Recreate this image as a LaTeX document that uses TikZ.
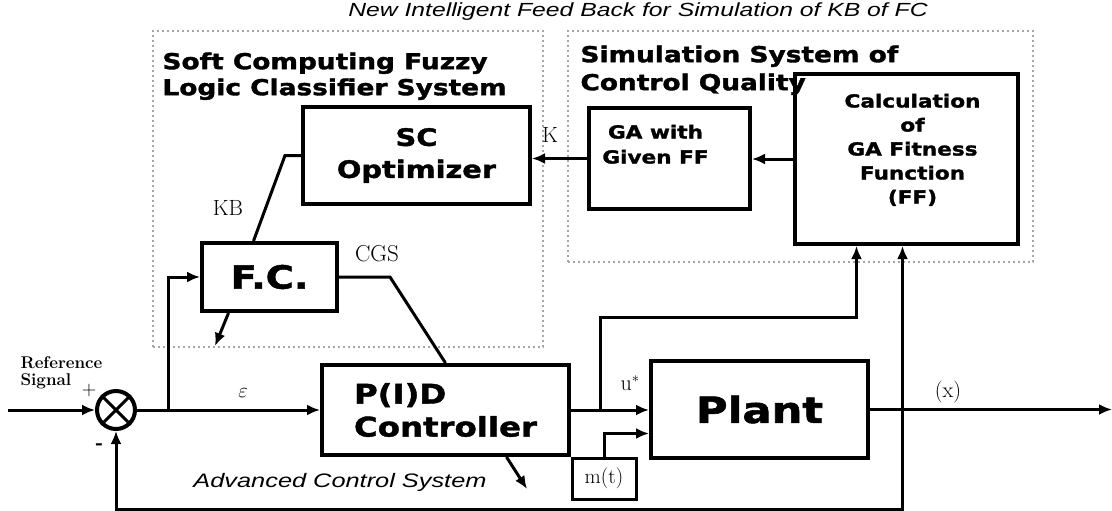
\documentclass[tikz,border=0pt]{standalone}
\usepackage{fontspec}
\usepackage{amsmath}
\usetikzlibrary{arrows.meta,positioning}
\newfontfamily\blkfont{DejaVu Sans}[FakeStretch=1.2,FakeBold=1.6]
\newfontfamily\arialfont{Liberation Sans}[FakeStretch=1.3]

\tikzset{
  block/.style={draw, line width=4pt, align=center, inner sep=0pt},
  zone/.style={draw=gray!70, line width=2pt, dash pattern=on 2pt off 3pt, inner sep=0pt},
  head/.style={font=\blkfont\bfseries\fontsize{22}{26}\selectfont, align=left, inner sep=0pt},
  lbl/.style={font=\fontsize{22}{24}\selectfont, inner sep=0pt},
}

\begin{document}
\begin{tikzpicture}[x=1pt,y=-1pt,>={Latex[length=13pt,width=11pt]},line width=3pt]
  \useasboundingbox (0,0) rectangle (1112,511);

  % dotted zones
  \node[zone, minimum width=390pt, minimum height=316pt] (fuzzy) at (348,189) {};
  \node[zone, minimum width=465pt, minimum height=231pt] (simul) at (800.5,146.5) {};
  \node[head, anchor=north west] (fuzzyhead) at (161,51) {Soft Computing Fuzzy\\Logic Classifier System};
  \node[head, anchor=north west, font=\blkfont\bfseries\fontsize{22}{28}\selectfont] (simulhead) at (579,44) {Simulation System of\\Control Quality};
  \node[font=\arialfont\itshape\fontsize{19}{22}\selectfont, inner sep=0pt] (title) at (638,12) {New Intelligent Feed Back for Simulation of KB of FC};

  % blocks
  \node[block, minimum width=227pt, minimum height=97pt, font=\blkfont\bfseries\fontsize{24}{32}\selectfont] (sc) at (416.5,155.5) {SC\\Optimizer};
  \node[block, minimum width=161pt, minimum height=101pt] (ga) at (669.5,158.5) {};
  \node[font=\blkfont\bfseries\fontsize{18}{25}\selectfont, align=center, anchor=north] (gatext) at ([xshift=-14pt,yshift=-14pt]ga.north) {GA with\\Given FF};
  \node[block, minimum width=223pt, minimum height=170pt] (calc) at (906.5,159) {};
  \node[font=\blkfont\bfseries\fontsize{18}{24}\selectfont, align=center, anchor=north] (calctext) at ([xshift=6pt,yshift=-17pt]calc.north) {Calculation\\of\\GA Fitness\\Function\\(FF)};
  \node[block, minimum width=135pt, minimum height=68pt, font=\blkfont\bfseries\fontsize{32}{36}\selectfont] (fc) at (269.5,277) {F.C.};
  \node[block, minimum width=247pt, minimum height=90pt, align=left, font=\blkfont\bfseries\fontsize{27}{33}\selectfont] (pid) at (445.5,410) {P(I)D\\Controller};
  \node[block, minimum width=217pt, minimum height=97pt, font=\blkfont\bfseries\fontsize{36}{40}\selectfont] (plant) at (759.5,409.5) {Plant};
  \node[block, line width=3pt, minimum width=64pt, minimum height=41pt, font=\fontsize{21}{22}\selectfont] (mt) at (604,478.5) {m(t)};
  \node[draw, circle, line width=4pt, minimum size=38pt, inner sep=0pt] (sum) at (116,410) {};
  \draw (sum.north west) -- (sum.south east) (sum.north east) -- (sum.south west);

  % free ends and junctions
  \coordinate (refin) at (8,410);
  \coordinate (jfc) at (168,410);
  \coordinate (ju) at (600,410);
  \coordinate (fcout) at (215,346);
  \coordinate (pidout) at (527,489);
  \coordinate (xout) at (1112,409.5);

  % signals
  \draw[->] (refin) -- (sum.west);
  \draw[->] (sum.east) -- (pid.west);
  \draw[->] (jfc) |- (fc.west);
  \draw ([xshift=-16pt]fc.north) -- ([xshift=-16pt]sc.west) -- (sc.west);
  \draw (fc.east) -- ++(51,0) -- (pid.north);
  \draw[->] ([xshift=-41pt]fc.south) -- (fcout);
  \draw[->] ([xshift=61pt]pid.south) -- (pidout);
  \draw[->] (pid.east) -- (plant.west |- pid.east);
  \draw[->] (ju) -- ++(0,-93) -| ([xshift=-50pt]calc.south);
  \draw[->] (mt.north) |- ([yshift=-24pt]plant.west);
  \draw[->] (plant.east) -- (xout);
  \draw[<->] ([xshift=-4pt]calc.south) -- ++(0,263) -| (sum.south);
  \draw[->] (calc.west) -- (ga.east |- calc.west);
  \draw[->] (ga.west) -- (sc.east |- ga.west);

  % labels
  \node[lbl] (klbl) at (550,135) {K};
  \node[lbl] (kblbl) at (228,208) {KB};
  \node[lbl, font=\fontsize{23}{24}\selectfont] (cgslbl) at (377,254) {CGS};
  \node[lbl] (epslbl) at (243,393) {$\varepsilon$};
  \node[lbl] (ulbl) at (630,383) {u$^*$};
  \node[lbl] (xlbl) at (948,392) {(x)};
  \node[font=\bfseries\fontsize{17}{17}\selectfont, align=left, anchor=west, inner sep=0pt] (refsig) at (19,373) {Reference\\Signal};
  \node[font=\fontsize{20}{20}\selectfont, inner sep=0pt] (plus) at (89,391) {+};
  \node[font=\arialfont\bfseries\fontsize{18}{20}\selectfont, inner sep=0pt] (minus) at (99,447) {-};
  \node[font=\arialfont\itshape\fontsize{19.5}{22}\selectfont, inner sep=0pt] (acs) at (340,482) {Advanced Control System};
\end{tikzpicture}
\end{document}
